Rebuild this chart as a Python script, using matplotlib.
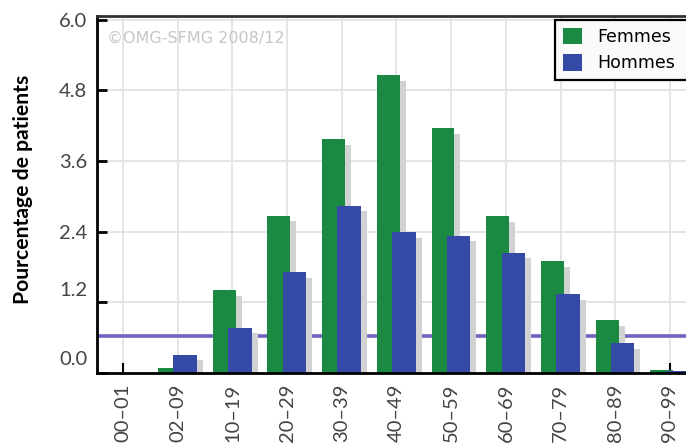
import matplotlib
matplotlib.use("Agg")
import matplotlib.pyplot as plt
import matplotlib.transforms as mtransforms
import numpy as np

categories = ["00–01", "02–09", "10–19", "20–29", "30–39", "40–49",
              "50–59", "60–69", "70–79", "80–89", "90–99"]
femmes = [0.0, 0.08, 1.41, 2.67, 3.97, 5.06, 4.16, 2.66, 1.90, 0.90, 0.05]
hommes = [0.0, 0.31, 0.77, 1.71, 2.84, 2.39, 2.33, 2.04, 1.34, 0.51, 0.03]
reference_level = 0.62
yticks = [0.0, 1.2, 2.4, 3.6, 4.8, 6.0]
ytick_labels = ["0.0", "1.2", "2.4", "3.6", "4.8", "6.0"]

GREEN = "#1a8a42"
BLUE = "#3549a6"
SHADOW = "#d2d2d2"
PURPLE = "#7462c0"

W, H = 686, 447
fig = plt.figure(figsize=(W / 100, H / 100), dpi=100)
left_px, right_px, top_px, bot_px = 97, 700, 16, 373
ax = fig.add_axes([left_px / W, (H - bot_px) / H,
                   (right_px - left_px) / W, (bot_px - top_px) / H])

x = np.arange(len(categories))
g_off, g_w = -0.36, 0.42
b_off, b_w = -0.08, 0.43
sx, sy = 0.11, 0.095

ax.axhline(reference_level, color=PURPLE, lw=2.6, zorder=0.8)

gsh = [max(v - sy, 0) for v in femmes]
bsh = [max(v - sy, 0) for v in hommes]
ax.bar(x + g_off + sx, gsh, width=g_w, align="edge", color=SHADOW, zorder=1)
ax.bar(x + g_off, femmes, width=g_w, align="edge", color=GREEN, zorder=1.1, label="Femmes")
ax.bar(x + b_off + sx, bsh, width=b_w, align="edge", color=SHADOW, zorder=1.2)
ax.bar(x + b_off, hommes, width=b_w, align="edge", color=BLUE, zorder=1.3, label="Hommes")

ax.set_xlim(-0.475, (right_px - 123) / 54.7)
ax.set_ylim(0, 6.06)
ax.set_axisbelow(True)

TICK_FONT = dict(fontfamily="Lato", fontweight="normal", fontsize=14.5, color="#444444")
ax.set_xticks(x)
ax.set_xticklabels(categories, rotation=90, **TICK_FONT)
ax.set_yticks(yticks)
ax.set_yticklabels(ytick_labels, **TICK_FONT)
ax.tick_params(axis="x", direction="in", length=7, width=1.5, pad=8, color="black")
ax.tick_params(axis="y", direction="in", length=7, width=2, pad=7, color="black")

# the lowest two labels sit above their ticks in the reference
for lab in ax.get_yticklabels():
    if lab.get_text() in ("0.0", "1.2"):
        shift = 15 if lab.get_text() == "0.0" else 13
        lab.set_transform(lab.get_transform() +
                          mtransforms.ScaledTranslation(0, shift / 100, fig.dpi_scale_trans))

ax.grid(True, color="#e3e3e3", lw=1.3)

for s in ("left", "bottom"):
    ax.spines[s].set_linewidth(2)
    ax.spines[s].set_color("black")
ax.spines["top"].set_linewidth(2)
ax.spines["top"].set_color("#333333")
ax.spines["right"].set_visible(False)

ax.set_ylabel("Pourcentage de patients", fontfamily="Lato", fontweight="bold",
              fontsize=15.2)
ax.yaxis.set_label_coords((33 - left_px) / (right_px - left_px),
                          (bot_px - 189) / (bot_px - top_px))

fig.text(107 / W, 1 - 38 / H, "©OMG-SFMG 2008/12", color="#c6c6c6",
         fontsize=11.5, va="center", ha="left")

leg = ax.legend(loc="upper left", bbox_to_anchor=(555 / W, 1 - 84 / H, 160 / W, 64 / H),
                bbox_transform=fig.transFigure, mode="expand", frameon=True, fancybox=False,
                prop={"size": 12.5}, handlelength=1.1, handleheight=1.1,
                labelspacing=0.45, borderpad=0.45, handletextpad=0.9,
                borderaxespad=0)
leg.get_frame().set_edgecolor("black")
leg.get_frame().set_linewidth(1.6)
leg.get_frame().set_facecolor("#fafafa")
leg.get_frame().set_alpha(1)

fig.savefig("out.png", dpi=100)
